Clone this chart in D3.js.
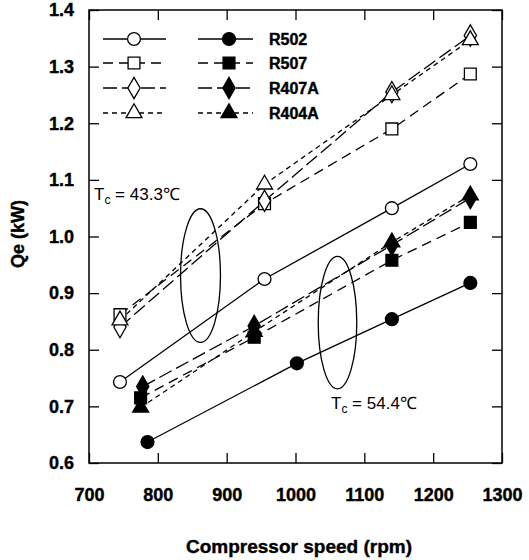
<!DOCTYPE html>
<html>
<head>
<meta charset="utf-8">
<script src="https://cdn.jsdelivr.net/npm/d3@7/dist/d3.min.js"></script>
<style>
  html, body { margin: 0; padding: 0; background: #fff; }
  svg text { font-family: "Liberation Sans", Arial, sans-serif; fill: #000; }
  svg text.heavy { font-weight: bold; stroke: #000; stroke-width: 0.4px; }
</style>
</head>
<body>
<svg id="chart" width="529" height="560"></svg>
<script>
// --- data ---
const refrigerants = ['R502', 'R507', 'R407A', 'R404A'];
const shapes  = ['circle', 'square', 'diamond', 'triangle'];
const dashes  = [null, '10,6', '14,5', '5,4'];

// Tc = 43.3 °C (open markers)
const speedHi = [
  [745, 955, 1140, 1254],
  [745, 955, 1140, 1254],
  [745, 955, 1140, 1254],
  [745, 955, 1140, 1254]
];
const qeHi = [
  [0.743, 0.925, 1.050, 1.128],
  [0.862, 1.058, 1.190, 1.287],
  [0.840, 1.063, 1.255, 1.355],
  [0.852, 1.092, 1.250, 1.347]
];

// Tc = 54.4 °C (filled markers)
const speedLo = [
  [785, 1002, 1140, 1254],
  [775, 940, 1140, 1254],
  [778, 940, 1140, 1254],
  [775, 940, 1140, 1254]
];
const qeLo = [
  [0.637, 0.776, 0.854, 0.918],
  [0.715, 0.822, 0.958, 1.025],
  [0.735, 0.842, 0.985, 1.068],
  [0.698, 0.832, 0.990, 1.073]
];

const xTicks = [700, 800, 900, 1000, 1100, 1200, 1300];
const yTicks = [0.6, 0.7, 0.8, 0.9, 1.0, 1.1, 1.2, 1.3, 1.4];

// annotation ellipses: [cx rpm, cy kW, rx rpm, ry kW]
const ellipses = [[862, 0.931, 29, 0.118], [1061, 0.848, 28, 0.117]];

// --- layout ---
const svg = d3.select('#chart');
const x = d3.scaleLinear().domain([700, 1300]).range([89, 502]);
const y = d3.scaleLinear().domain([0.6, 1.4]).range([463, 10]);
const TICK = 10;

const sym = {
  circle: d3.symbolCircle, square: d3.symbolSquare,
  diamond: d3.symbolDiamond, triangle: d3.symbolTriangle
};
const symSize = { circle: 130, square: 140, diamond: 130, triangle: 110 };
const symPath = (s) => d3.symbol(sym[s], symSize[s])();

// axes (ticks inward on all four sides)
const fmtY = d3.format('.1f');
svg.append('g').attr('transform', `translate(0,${y(0.6)})`)
  .call(d3.axisBottom(x).tickValues(xTicks).tickSizeInner(-TICK).tickSizeOuter(0).tickPadding(25).tickFormat(d3.format('d')));
svg.append('g').attr('transform', `translate(0,${y(1.4)})`)
  .call(d3.axisTop(x).tickValues(xTicks).tickSizeInner(-TICK).tickSizeOuter(0).tickFormat(''));
svg.append('g').attr('transform', `translate(${x(700)},0)`)
  .call(d3.axisLeft(y).tickValues(yTicks).tickSizeInner(-TICK).tickSizeOuter(0).tickPadding(15).tickFormat(fmtY));
svg.append('g').attr('transform', `translate(${x(1300)},0)`)
  .call(d3.axisRight(y).tickValues(yTicks).tickSizeInner(-TICK).tickSizeOuter(0).tickFormat(''));

svg.selectAll('.domain').remove();
svg.selectAll('.tick line').attr('stroke', '#000').attr('stroke-width', 1.3);
svg.selectAll('.tick text').attr('class', 'heavy')
  .style('font-size', '18px').style('font-family', '"Liberation Sans", Arial, sans-serif');

// frame
svg.append('rect')
  .attr('x', x(700)).attr('y', y(1.4))
  .attr('width', x(1300) - x(700)).attr('height', y(0.6) - y(1.4))
  .attr('fill', 'none').attr('stroke', '#000').attr('stroke-width', 1.5);

// axis titles
svg.append('text').attr('class', 'heavy').attr('x', 299).attr('y', 553).attr('text-anchor', 'middle')
  .style('font-size', '19px').text('Compressor speed (rpm)');
svg.append('text').attr('class', 'heavy').attr('transform', 'translate(24,234) rotate(-90)').attr('text-anchor', 'middle')
  .style('font-size', '18px').text('Qe (kW)');

// series
const line = d3.line().x((d) => x(d[0])).y((d) => y(d[1]));
const plot = svg.append('g');

function drawSeries(speeds, qes, filled) {
  refrigerants.forEach((r, i) => {
    const pts = speeds[i].map((s, j) => [s, qes[i][j]]);
    plot.append('path').datum(pts)
      .attr('d', line).attr('fill', 'none').attr('stroke', '#000')
      .attr('stroke-width', 1.3).attr('stroke-dasharray', dashes[i]);
    plot.selectAll(null).data(pts).join('path')
      .attr('transform', (d) => `translate(${x(d[0])},${y(d[1])})`)
      .attr('d', symPath(shapes[i]))
      .attr('fill', filled ? '#000' : '#fff')
      .attr('stroke', '#000').attr('stroke-width', 1.3);
  });
}
drawSeries(speedHi, qeHi, false);
drawSeries(speedLo, qeLo, true);

// ellipses
ellipses.forEach((e) => {
  svg.append('ellipse')
    .attr('cx', x(e[0])).attr('cy', y(e[1]))
    .attr('rx', x(e[0] + e[2]) - x(e[0])).attr('ry', y(e[1] - e[3]) - y(e[1]))
    .attr('fill', 'none').attr('stroke', '#000').attr('stroke-width', 1.3);
});

// Tc labels
function tcLabel(px, py, val) {
  const t = svg.append('text').attr('x', px).attr('y', py).style('font-size', '17px');
  t.append('tspan').text('T');
  t.append('tspan').style('font-size', '12px').attr('dy', 4).text('c');
  t.append('tspan').attr('dy', -4).text(' = ' + val + '℃');
}
tcLabel(94, 200, '43.3');
tcLabel(331, 409, '54.4');

// legend
const legRows = [39, 63, 88, 113];
const leg = svg.append('g');
refrigerants.forEach((r, i) => {
  const yy = legRows[i];
  [[103, 166, 134, false], [198, 253, 229, true]].forEach(([x0, x1, xm, filled]) => {
    leg.append('line').attr('x1', x0).attr('x2', x1).attr('y1', yy).attr('y2', yy)
      .attr('stroke', '#000').attr('stroke-width', 1.3).attr('stroke-dasharray', dashes[i]);
    leg.append('path').attr('transform', `translate(${xm},${yy})`)
      .attr('d', symPath(shapes[i]))
      .attr('fill', filled ? '#000' : '#fff').attr('stroke', '#000').attr('stroke-width', 1.3);
  });
  leg.append('text').attr('class', 'heavy').attr('x', 269).attr('y', yy + 6)
    .style('font-size', '16px').text(r);
});
</script>
</body>
</html>
